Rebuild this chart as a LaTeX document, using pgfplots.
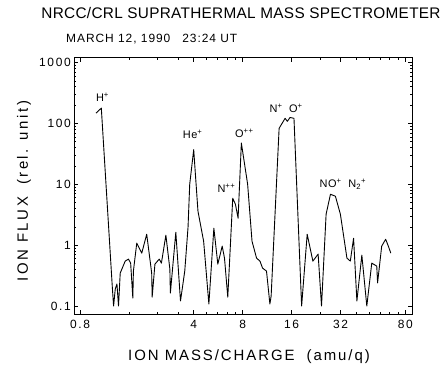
\documentclass[border=0pt]{standalone}
\usepackage{pgfplots}
\pgfplotsset{compat=1.18}
\usepackage{fontspec}
\setmainfont{Liberation Sans}
\newcommand\hf[2]{\fontsize{#1}{#1}\selectfont\addfontfeatures{LetterSpace=#2}}
\begin{document}
\begin{tikzpicture}
\begin{axis}[
  at={(0,0)}, anchor=south west,
  scale only axis, width=338bp, height=256bp,
  xmode=log, ymode=log,
  xmin=0.735, xmax=87.9, ymin=0.074, ymax=1185,
  xtick={0.8,4,8,16,32,80}, xticklabels={0.8,4,8,16,32,80},
  minor xtick={1.6,2.4,3.2,4.8,5.6,6.4,7.2,24,40,48,56,64,72},
  ytick={0.1,1,10,100,1000}, yticklabels={0.1,1,10,100,1000},
  minor ytick={0.2,0.3,0.4,0.5,0.6,0.7,0.8,0.9,2,3,4,5,6,7,8,9,20,30,40,50,60,70,80,90,200,300,400,500,600,700,800,900},
  major tick length=4.5bp, minor tick length=2.5bp,
  tick style={black, line width=0.6pt},
  axis line style={line width=1pt},
  ticklabel style={font=\hf{12}{14}, inner sep=0pt},
  xticklabel style={yshift=-6bp},
  yticklabel style={xshift=-3bp},
]
\addplot[black, line width=0.9pt, line join=round] coordinates {
(1.004,147.5) (1.082,178) (1.263,0.213) (1.287,0.1) (1.318,0.19) (1.350,0.23)
(1.380,0.1) (1.414,0.348) (1.517,0.547) (1.589,0.59) (1.639,0.507) (1.690,0.135)
(1.704,0.375) (1.787,1.08) (1.918,0.739) (2.057,1.51) (2.207,0.348) (2.222,0.14)
(2.311,0.488) (2.456,0.59) (2.533,0.507) (2.698,1.46) (2.855,0.404) (2.875,0.163)
(3.106,1.63) (3.318,0.121) (3.525,0.375) (3.692,1.97) (3.781,10) (4.0,37)
(4.249,3.61) (4.604,1.16) (4.959,0.108) (5.321,1.9) (5.628,0.488) (5.989,0.963)
(6.186,0.612) (6.48,0.14) (6.951,5.89) (7.22,4.7) (7.499,2.77) (7.854,47.5)
(8.583,10) (9.131,1.16) (9.738,0.612) (10.22,0.547) (10.6,0.42) (11.21,0.375)
(11.76,0.108) (11.97,0.146) (13.4,82.8) (14.58,121) (15.06,108) (15.64,125)
(16.54,121) (18.43,0.1) (19.94,1.51) (21.61,0.547) (23.28,0.712) (24.42,0.1)
(26.06,3.22) (27.72,6.85) (29.73,6.36) (31.9,3.22) (35.0,0.612) (36.72,0.547)
(38.45,1.3) (40.29,0.121) (43.22,0.686) (46.36,0.1) (49.74,0.507) (53.38,0.453)
(54.0,0.24) (57.24,0.963) (60.55,1.25) (62.89,0.963) (65.13,0.739)
};
\node[font=\hf{11}{5}] at (axis cs:1.10,267) {H\textsuperscript{+}};
\node[font=\hf{11}{5}] at (axis cs:3.94,66) {He\textsuperscript{+}};
\node[font=\hf{11}{5}] at (axis cs:8.19,68.6) {O\textsuperscript{++}};
\node[font=\hf{11}{5}] at (axis cs:6.36,8.6) {N\textsuperscript{++}};
\node[font=\hf{11}{5}] at (axis cs:12.85,176) {N\textsuperscript{+}};
\node[font=\hf{11}{5}] at (axis cs:17.0,176) {O\textsuperscript{+}};
\node[font=\hf{11}{5}] at (axis cs:27.8,10.4) {NO\textsuperscript{+}};
\node[font=\hf{11}{5}] at (axis cs:40.5,10) {N\textsubscript{2}\textsuperscript{+}};
\end{axis}
\node[anchor=base, inner sep=0pt, font=\hf{15.4}{2}] at (167bp,295.7bp) {NRCC/CRL SUPRATHERMAL MASS SPECTROMETER};
\node[anchor=base west, inner sep=0pt, font=\hf{12}{8}] at (-8bp,271.7bp) {MARCH 12, 1990\hspace{12bp}23:24 UT};
\node[anchor=base, inner sep=0pt, font=\hf{15}{13}] at (175bp,-46.7bp) {ION MASS/CHARGE\hspace{12bp}(amu/q)};
\node[anchor=base, rotate=90, inner sep=0pt, font=\hf{15}{17}] at (-46bp,123bp) {ION FLUX\hspace{12bp}(rel. unit)};
\pgfresetboundingbox
\path (-74bp,-51bp) rectangle (373bp,314bp);
\end{tikzpicture}
\end{document}
